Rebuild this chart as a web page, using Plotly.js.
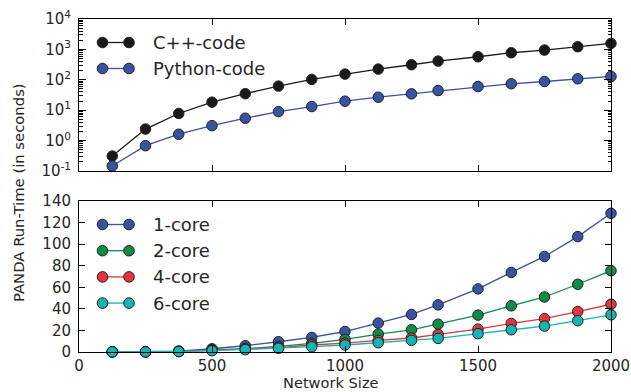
<!DOCTYPE html>
<html><head><meta charset="utf-8">
<script src="https://cdn.plot.ly/plotly-3.0.1.min.js"></script>
<style>html,body{margin:0;padding:0;background:#fff;}#chart{width:631px;height:392px;}</style>
</head><body><div id="chart"></div>
<script>
// ---- data ----
const networkSize = [125, 250, 375, 500, 625, 750, 875, 1000, 1125, 1250, 1350, 1500, 1625, 1750, 1875, 2000];
const cppCode    = [0.31, 2.4, 7.8, 18.4, 35, 62, 103, 154, 225, 313, 412, 573, 776, 951, 1224, 1577];
const pythonCode = [0.146, 0.68, 1.62, 3.1, 5.45, 9.0, 13.2, 19.8, 26.8, 34.5, 44.5, 60, 74, 88, 108, 129];
const core1 = [0.1, 0.3, 0.9, 3.0, 5.8, 9.5, 13.5, 19, 26.8, 34.8, 43.7, 58.5, 73.8, 88.6, 107, 128.6];
const core2 = [0.1, 0.2, 0.6, 2.0, 3.0, 5.2, 8.0, 11.7, 16.6, 20.6, 25.8, 34.2, 42.8, 51, 62.8, 75.4];
const core4 = [0.1, 0.1, 0.5, 1.5, 2.5, 4.0, 6.5, 8.3, 10.8, 13.0, 16.3, 21.2, 26.5, 31, 37.5, 44.3];
const core6 = [0.1, 0.1, 0.4, 1.2, 2.2, 3.4, 4.9, 6.5, 8.6, 10.8, 12.6, 17.0, 20.6, 24, 29, 34.5];
const topNames = ['C++-code', 'Python-code'];
const bottomNames = ['1-core', '2-core', '4-core', '6-core'];
const topColors = ['#1a1a1a', '#3953a4'];
const bottomColors = ['#3953a4', '#0e8c48', '#e5343d', '#17b3b5'];
const xTicks = [0, 500, 1000, 1500, 2000];
const logTickVals = [0.1, 1, 10, 100, 1000, 10000];
const logTickText = ['10<sup>-1</sup>', '10<sup>0</sup>', '10<sup>1</sup>', '10<sup>2</sup>', '10<sup>3</sup>', '10<sup>4</sup>'];

// ---- layout helpers ----
const L = 79, R = 611, T = 19, B = 352;
const W = R - L, H = B - T;
const px = v => (v - L) / W;
const py = v => (B - v) / H;
const FONT = 'DejaVu Sans, sans-serif';
const TXT = '#262626';

function series(x, y, name, color, xa, ya) {
  return {
    x: x, y: y, name: name, type: 'scatter', mode: 'lines+markers',
    xaxis: xa, yaxis: ya, showlegend: false, cliponaxis: false,
    line: {color: color, width: 1.3},
    marker: {color: color, size: 10.5, line: {color: '#222', width: 1}}
  };
}

const data = [
  series(networkSize, cppCode, topNames[0], topColors[0], 'x', 'y'),
  series(networkSize, pythonCode, topNames[1], topColors[1], 'x', 'y'),
  series(networkSize, core1, bottomNames[0], bottomColors[0], 'x2', 'y2'),
  series(networkSize, core2, bottomNames[1], bottomColors[1], 'x2', 'y2'),
  series(networkSize, core4, bottomNames[2], bottomColors[2], 'x2', 'y2'),
  series(networkSize, core6, bottomNames[3], bottomColors[3], 'x2', 'y2')
];

// custom legends (matplotlib style: two markers joined by a line)
const shapes = [], annotations = [];
function legendRow(yPix, name, color) {
  const xa = 102.5, xb = 129;
  shapes.push({type: 'line', xref: 'paper', yref: 'paper', x0: px(xa), x1: px(xb), y0: py(yPix), y1: py(yPix),
    line: {color: color, width: 1.3}});
  [xa, xb].forEach(xx => shapes.push({type: 'circle', xref: 'paper', yref: 'paper',
    xsizemode: 'pixel', ysizemode: 'pixel', xanchor: px(xx), yanchor: py(yPix),
    x0: -5.3, x1: 5.3, y0: -5.3, y1: 5.3, fillcolor: color, line: {color: '#222', width: 1}}));
  annotations.push({xref: 'paper', yref: 'paper', x: px(151), y: py(yPix), xanchor: 'left', yanchor: 'middle',
    text: name, showarrow: false, font: {family: FONT, size: 18, color: TXT}});
}
topNames.forEach((n, i) => legendRow(42.5 + i * 26, n, topColors[i]));
bottomNames.forEach((n, i) => legendRow(224.5 + i * 26.2, n, bottomColors[i]));

annotations.push({xref: 'paper', yref: 'paper', x: px(18), y: py(193), textangle: -90,
  xanchor: 'center', yanchor: 'middle', showarrow: false,
  text: 'PANDA Run-Time (in seconds)', font: {family: FONT, size: 14.8, color: TXT}});
annotations.push({xref: 'paper', yref: 'paper', x: px(331), y: py(392), borderpad: 0,
  xanchor: 'center', yanchor: 'bottom', showarrow: false,
  text: 'Network Size', font: {family: FONT, size: 14.6, color: TXT}});

const axBase = {
  showline: true, linecolor: '#000', linewidth: 1, mirror: 'ticks',
  ticks: 'inside', tickcolor: '#000', tickwidth: 1, showgrid: false, zeroline: false,
  tickfont: {family: FONT, size: 15, color: TXT}
};

const layout = {
  width: 631, height: 392,
  margin: {l: L, r: 631 - R, t: T, b: 392 - B, pad: 0},
  paper_bgcolor: '#fff', plot_bgcolor: '#fff',
  showlegend: false,
  xaxis: Object.assign({}, axBase, {domain: [0, 1], anchor: 'y', range: [0, 2000],
    tickvals: xTicks, showticklabels: false, ticklen: 6}),
  yaxis: Object.assign({}, axBase, {domain: [py(171), 1], anchor: 'x', type: 'log', range: [-1, 4],
    tickvals: logTickVals, ticktext: logTickText, ticklen: 7, ticklabelstandoff: 4,
    minor: {ticks: 'inside', ticklen: 3.5, tickcolor: '#000', dtick: 'D1', showgrid: false}}),
  xaxis2: Object.assign({}, axBase, {domain: [0, 1], anchor: 'y2', range: [0, 2000],
    tickvals: xTicks, ticklen: 6, ticklabelstandoff: 0}),
  yaxis2: Object.assign({}, axBase, {domain: [0, py(201)], anchor: 'x2', range: [0, 140],
    dtick: 20, ticklen: 6, ticklabelstandoff: 4}),
  shapes: shapes,
  annotations: annotations
};

Plotly.newPlot('chart', data, layout, {displayModeBar: false, staticPlot: true});
</script>
</body></html>
